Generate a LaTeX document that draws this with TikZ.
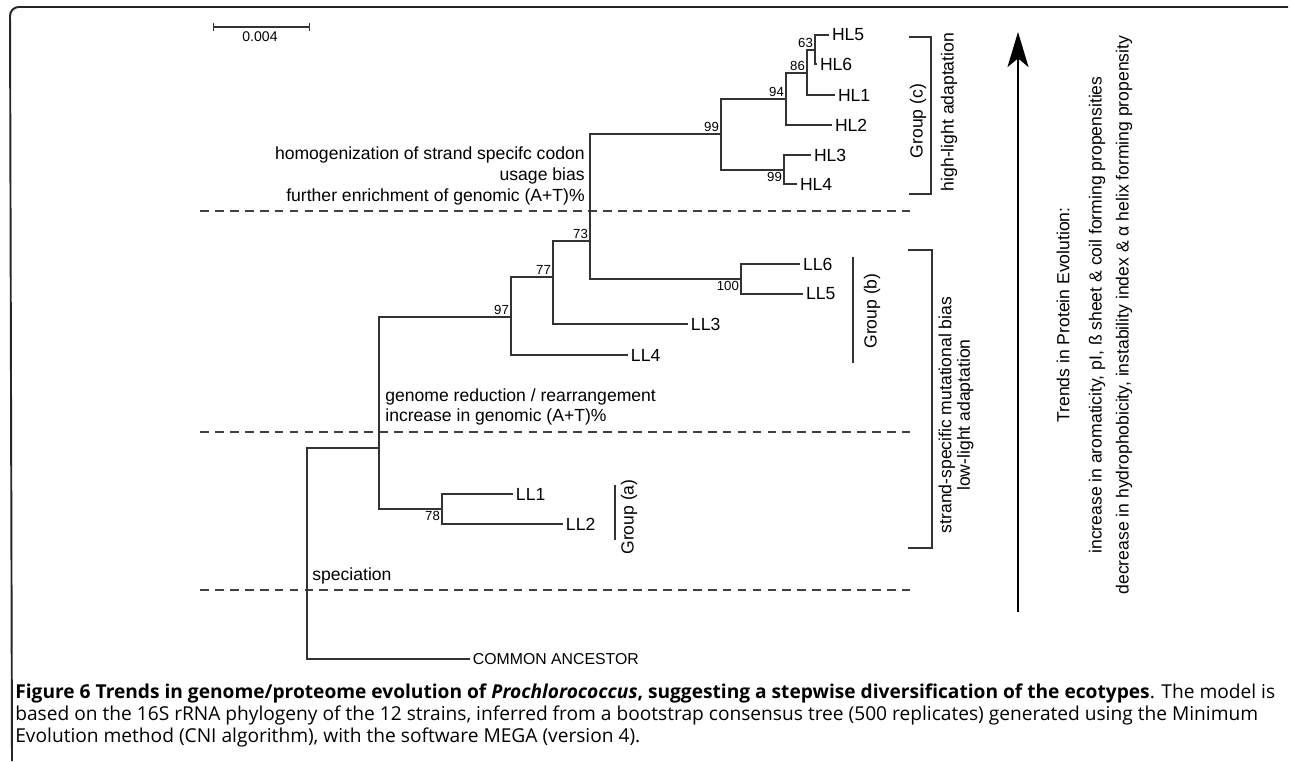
\documentclass[tikz,border=0pt]{standalone}
\usepackage{fontspec}
\setmainfont{Liberation Sans}
\newfontfamily\capfont{Open Sans}
\usetikzlibrary{arrows.meta}

\begin{document}
\begin{tikzpicture}[x=0.02cm,y=-0.02cm,
    branch/.style={draw=black!80, line width=0.75pt},
    sepline/.style={draw=black!75, line width=0.75pt, dash pattern=on 5pt off 3.5pt},
    leaf/.style={anchor=west, inner sep=1.5pt, font=\fontsize{10}{12}\selectfont},
    boot/.style={inner sep=1pt, font=\fontsize{7.5}{9}\selectfont},
    note/.style={inner sep=0pt, font=\fontsize{10}{11.9}\selectfont},
    grp/.style={rotate=90, inner sep=0pt, font=\fontsize{10}{10.5}\selectfont},
    capline/.style={anchor=base west, inner sep=0pt, font=\capfont\fontsize{10.9}{12.5}\selectfont}]
      \useasboundingbox (0,0) rectangle (1290,761);

      % frame
      \draw[black!85, line width=1.1pt, rounded corners=5pt]
      (12,761) -- (10,7) -- (1288,7);

      % scale bar
      \coordinate (barl) at (213,27);
      \coordinate (barr) at (310,27);
      \draw[branch, {Bar[width=4pt]}-{Bar[width=4pt]}] (barl) -- (barr);
      \node (barlbl) at (260,37) [inner sep=0pt, font=\fontsize{8}{9}\selectfont] {0.004};

      % separators
      \foreach \y in {211,432,590}
        \draw[sepline] (200,\y) -- (910,\y);

      % internal nodes
      \coordinate (root) at (307,553);
      \coordinate (bll) at (379,448);
      \coordinate (b78) at (442,509);
      \coordinate (b97) at (511,317);
      \coordinate (b77) at (553,277);
      \coordinate (b73) at (590,241);
      \coordinate (b100) at (741,279);
      \coordinate (b99hl) at (721,134);
      \coordinate (b94) at (786,99);
      \coordinate (b86) at (807,73);
      \coordinate (b63) at (815,50);
      \coordinate (b99low) at (784,170);

      % leaves
      \node (hl5) at (829,35) [leaf] {HL5};
      \node (hl6) at (817,64) [leaf] {HL6};
      \node (hl1) at (835,95) [leaf] {HL1};
      \node (hl2) at (832,125) [leaf] {HL2};
      \node (hl3) at (811,155) [leaf] {HL3};
      \node (hl4) at (797,184) [leaf] {HL4};
      \node (ll6) at (800,264) [leaf] {LL6};
      \node (ll5) at (803,294) [leaf] {LL5};
      \node (ll3) at (688,324) [leaf] {LL3};
      \node (ll4) at (628,355) [leaf] {LL4};
      \node (ll1) at (513,494) [leaf] {LL1};
      \node (ll2) at (563,524) [leaf] {LL2};
      \node (anc) at (470,659) [leaf, font=\fontsize{9}{11}\selectfont] {COMMON ANCESTOR};

      % branches
      \draw[branch] (root) |- (bll);
      \draw[branch] (root) |- (anc.west);
      \draw[branch] (bll) |- (b97);
      \draw[branch] (bll) |- (b78);
      \draw[branch] (b78) |- (ll1.west);
      \draw[branch] (b78) |- (ll2.west);
      \draw[branch] (b97) |- (b77);
      \draw[branch] (b97) |- (ll4.west);
      \draw[branch] (b77) |- (b73);
      \draw[branch] (b77) |- (ll3.west);
      \draw[branch] (b73) |- (b99hl);
      \draw[branch] (b73) |- (b100);
      \draw[branch] (b100) |- (ll6.west);
      \draw[branch] (b100) |- (ll5.west);
      \draw[branch] (b99hl) |- (b94);
      \draw[branch] (b99hl) |- (b99low);
      \draw[branch] (b94) |- (b86);
      \draw[branch] (b94) |- (hl2.west);
      \draw[branch] (b86) |- (b63);
      \draw[branch] (b86) |- (hl1.west);
      \draw[branch] (b63) |- (hl5.west);
      \draw[branch] (b63) |- (hl6.west);
      \draw[branch] (b99low) |- (hl3.west);
      \draw[branch] (b99low) |- (hl4.west);

      % bootstrap values
      \node at (b97) [boot, anchor=south east] {97};
      \node at (b77) [boot, anchor=south east] {77};
      \node at (b73) [boot, anchor=south east] {73};
      \node at (b99hl) [boot, anchor=south east] {99};
      \node at (b94) [boot, anchor=south east] {94};
      \node at (b86) [boot, anchor=south east] {86};
      \node at (b63) [boot, anchor=south east] {63};
      \node at (b99low) [boot, anchor=north east] {99};
      \node at (b100) [boot, anchor=north east] {100};
      \node at (b78) [boot, anchor=north east] {78};

      % notes on the tree
      \node (homog) at (585,176) [note, anchor=east, align=right]
      {homogenization of strand specifc codon\\usage bias\\further enrichment of genomic (A+T)\%};

      \node (reduct) at (385,407) [note, anchor=west, align=left,
      font=\fontsize{10}{11.3}\selectfont]
      {genome reduction / rearrangement\\increase in genomic (A+T)\%};

      \node (spec) at (312,576) [note, anchor=west] {speciation};

      % groups
      \draw[branch] (909,37) -- (931,37) -- (931,194) -- (909,194);
      \draw[branch] (853,257) -- (853,363);
      \draw[branch] (615,485) -- (615,540);
      \draw[branch] (908,250) -- (932,250) -- (932,548) -- (908,548);

      \node (grpc) at (918,121) [grp] {Group (c)};
      \node (hladapt) at (949,112) [grp] {high-light adaptation};
      \node (grpb) at (872,311) [grp] {Group (b)};
      \node (grpa) at (629,517) [grp] {Group (a)};
      \node (lladapt) at (956,415) [grp, align=center]
      {strand-specific mutational bias\\low-light adaptation};

      % trend arrow
      \coordinate (trendlow) at (1018,612);
      \coordinate (trendhigh) at (1018,32);
      \draw[black, line width=0.75pt, -{Stealth[length=20pt,width=12pt,inset=5pt]}]
      (trendlow) -- (trendhigh);

      \node (trends) at (1063,315) [grp] {Trends in Protein Evolution:};
      \node (incr) at (1097,315) [grp]
      {increase in aromaticity, pI, ß sheet \& coil forming propensities};
      \node (decr) at (1124,315) [grp]
      {decrease in hydrophobicity, instability index \& α helix forming propensity};

      % caption
      \node (cap1) at (15,698) [capline]
      {\textbf{Figure 6 Trends in genome/proteome evolution of \textit{Prochlorococcus}, suggesting a stepwise diversification of the ecotypes}. The model is};
      \node (cap2) at (15,720) [capline]
      {based on the 16S rRNA phylogeny of the 12 strains, inferred from a bootstrap consensus tree (500 replicates) generated using the Minimum};
      \node (cap3) at (15,742) [capline]
      {Evolution method (CNI algorithm), with the software MEGA (version 4).};
\end{tikzpicture}
\end{document}
